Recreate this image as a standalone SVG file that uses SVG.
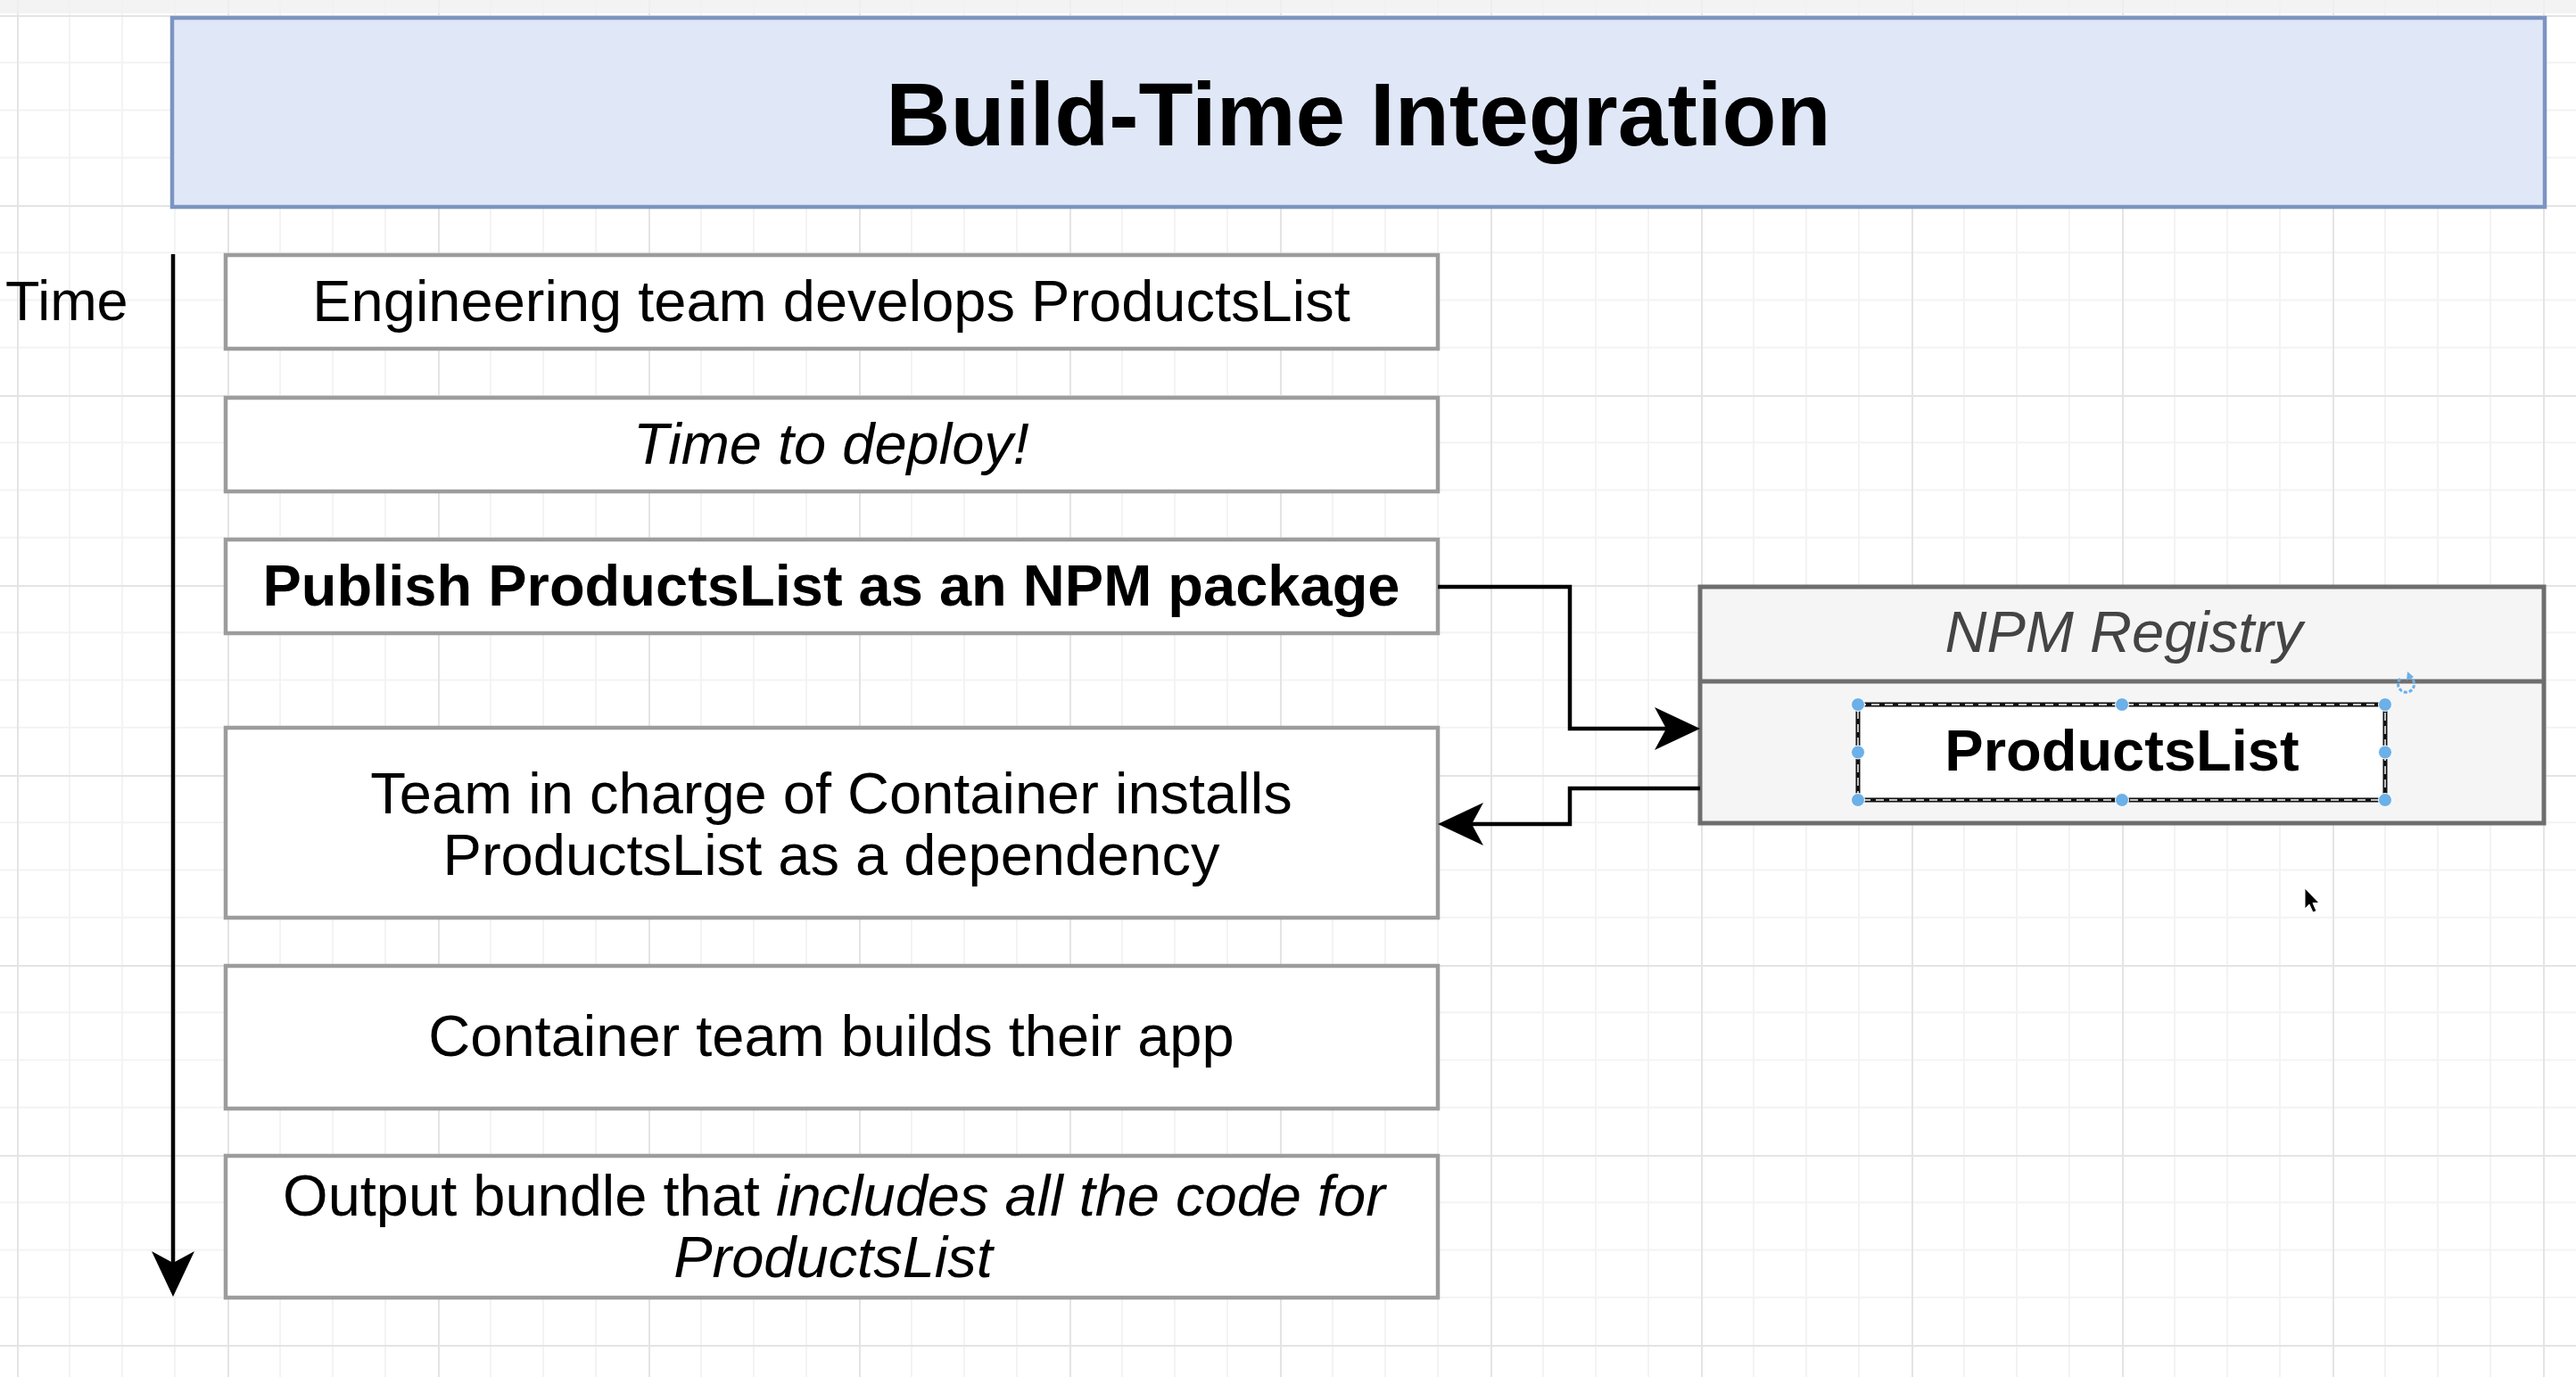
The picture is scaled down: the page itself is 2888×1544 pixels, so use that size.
<svg xmlns="http://www.w3.org/2000/svg" width="2888" height="1544" viewBox="0 0 2888 1544">
  <style>
    text { font-family: "Liberation Sans", Arial, Helvetica, sans-serif; fill: #000; }
    .step { fill: #ffffff; stroke: #9c9c9c; stroke-width: 4.5; }
    .lbl { font-size: 65px; text-anchor: middle; }
    .conn { fill: none; stroke: #000; stroke-width: 4.5; }
    .handle { fill: #6cb0e8; stroke: #ffffff; stroke-width: 1; }
  </style>
  <defs>
    <pattern id="grid" patternUnits="userSpaceOnUse" x="19" y="17" width="236" height="213">
      <rect x="0" y="0" width="236" height="213" fill="#ffffff"/>
      <g fill="#f3f3f3">
        <rect x="58" y="0" width="2" height="213"/>
        <rect x="117" y="0" width="2" height="213"/>
        <rect x="176" y="0" width="2" height="213"/>
        <rect x="0" y="52.25" width="236" height="2"/>
        <rect x="0" y="105.5" width="236" height="2"/>
        <rect x="0" y="158.75" width="236" height="2"/>
      </g>
      <g fill="#e4e4e4">
        <rect x="0" y="0" width="2" height="213"/>
        <rect x="0" y="0" width="236" height="2"/>
      </g>
    </pattern>
    <marker id="arrow" viewBox="-14 -26 54 52" refX="0" refY="0" markerWidth="54" markerHeight="52" markerUnits="userSpaceOnUse" orient="auto">
      <path d="M38,0 L-13,-24 L0,0 L-13,24 Z" fill="#000"/>
    </marker>
  </defs>

  <rect id="background" x="0" y="0" width="2888" height="1544" fill="url(#grid)"/>
  <rect x="0" y="0" width="2888" height="15" fill="#f0f0f0" opacity="0.8"/>

  <g id="title">
    <rect x="193" y="20" width="2660" height="212" fill="#e0e8f7" stroke="#7c95c0" stroke-width="4.5"/>
    <text x="1523" y="163" font-size="100" font-weight="bold" text-anchor="middle">Build-Time Integration</text>
  </g>

  <g id="time-axis">
    <text x="6" y="359" font-size="63">Time</text>
  </g>

  <g id="step1">
    <rect class="step" x="253" y="286" width="1359" height="105"/>
    <text class="lbl" x="932" y="360">Engineering team develops ProductsList</text>
  </g>

  <g id="step2">
    <rect class="step" x="253" y="446" width="1359" height="105"/>
    <text class="lbl" x="932" y="520" font-style="italic">Time to deploy!</text>
  </g>

  <g id="step3">
    <rect class="step" x="253" y="605" width="1359" height="105"/>
    <text class="lbl" x="932" y="679" font-weight="bold">Publish ProductsList as an NPM package</text>
  </g>

  <g id="step4">
    <rect class="step" x="253" y="816" width="1359" height="213"/>
    <text class="lbl" x="932" y="912">Team in charge of Container installs</text>
    <text class="lbl" x="932" y="981">ProductsList as a dependency</text>
  </g>

  <g id="step5">
    <rect class="step" x="253" y="1083" width="1359" height="160"/>
    <text class="lbl" x="932" y="1184">Container team builds their app</text>
  </g>

  <g id="step6">
    <rect class="step" x="253" y="1296" width="1359" height="159"/>
    <text class="lbl" x="935" y="1363">Output bundle that <tspan font-style="italic">includes all the code for</tspan></text>
    <text class="lbl" x="934" y="1432" font-style="italic">ProductsList</text>
  </g>

  <g id="npm-registry">
    <rect x="1906" y="658" width="946" height="265" fill="#f5f5f5" stroke="#6e6e6e" stroke-width="5"/>
    <line x1="1906" y1="764" x2="2852" y2="764" stroke="#6e6e6e" stroke-width="5"/>
    <text class="lbl" x="2381" y="731" font-style="italic" style="fill:#444444">NPM Registry</text>
  </g>

  <g id="products-list">
    <rect x="2083" y="790" width="591" height="107" fill="#ffffff" stroke="#111111" stroke-width="5"/>
    <rect x="2083" y="790" width="591" height="107" fill="none" stroke="#ffffff" stroke-width="1.5" stroke-dasharray="9 6"/>
    <text class="lbl" x="2379" y="864" font-weight="bold">ProductsList</text>
    <g id="selection-handles">
      <circle class="handle" cx="2083" cy="790" r="7.5"/>
      <circle class="handle" cx="2379" cy="790" r="7.5"/>
      <circle class="handle" cx="2674" cy="790" r="7.5"/>
      <circle class="handle" cx="2083" cy="843.5" r="7.5"/>
      <circle class="handle" cx="2674" cy="843.5" r="7.5"/>
      <circle class="handle" cx="2083" cy="897" r="7.5"/>
      <circle class="handle" cx="2379" cy="897" r="7.5"/>
      <circle class="handle" cx="2674" cy="897" r="7.5"/>
      <path d="M2691,761 A9,9 0 1 0 2703,760" fill="none" stroke="#6cb0e8" stroke-width="3" stroke-dasharray="4 2"/>
      <path d="M2699,753 L2706,759 L2698,763 Z" fill="#6cb0e8"/>
    </g>
  </g>

  <g id="connectors">
    <line class="conn" x1="194" y1="285" x2="194" y2="1416" marker-end="url(#arrow)"/>
    <path class="conn" d="M1612,658 H1760 V817 H1868" marker-end="url(#arrow)"/>
    <path class="conn" d="M1906,884 H1760 V924 H1650" marker-end="url(#arrow)"/>
  </g>

  <path id="cursor" d="M2584,996 L2584,1019 L2589,1014 L2593,1023 L2597,1021.5 L2593,1012.5 L2600,1012.5 Z" fill="#000" stroke="#fff" stroke-width="1"/>
</svg>
